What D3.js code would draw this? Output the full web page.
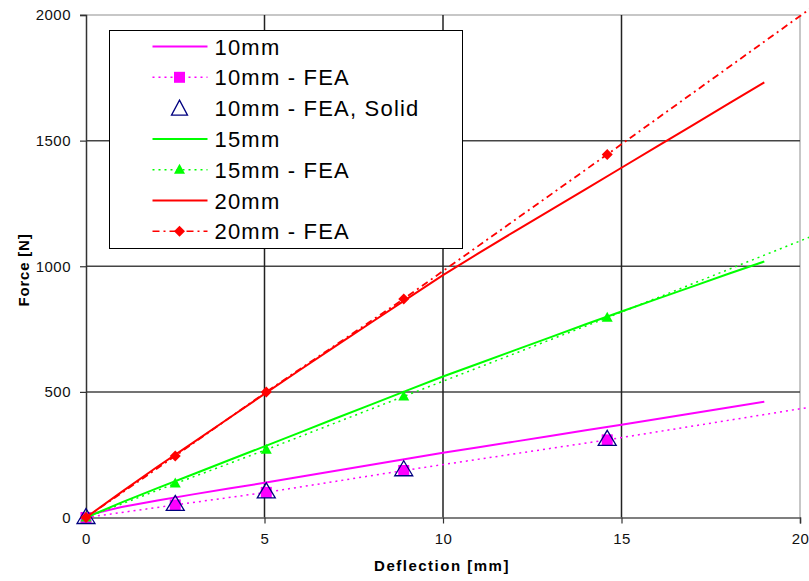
<!DOCTYPE html>
<html>
<head>
<meta charset="utf-8">
<script src="https://cdn.jsdelivr.net/npm/d3@7"></script>
<style>
	body { margin: 0; background: #fff; }
	svg { display: block; font-family: "Liberation Sans", Arial, sans-serif; }
</style>
</head>
<body>
<div id="chart"></div>
<script>
// measured curves, one reading per mm
const measX = [0, 1, 2, 3, 4, 5, 6, 7, 8, 9, 10, 11, 12, 13, 14, 15, 16, 17, 18, 19];
const meas10 = [8, 42, 68, 92, 115, 138, 162, 186, 210, 234, 258, 280, 302, 324, 347, 369, 392, 415, 438, 461];
const meas15 = [0, 60, 117, 172, 228, 283, 339, 395, 450, 506, 561, 613, 665, 717, 769, 820, 870, 920, 970, 1019];
const meas20 = [0, 102, 202, 298, 395, 492, 588, 683, 777, 871, 965, 1052, 1138, 1222, 1307, 1392, 1477, 1562, 1647, 1732];

// FEA points
const feaX = [0, 2.5, 5.05, 8.9, 14.6];
const fea10 = [0, 50, 100, 187, 309];
const fea10Solid = [0, 52, 102, 190, 311];
const fea15 = [0, 135, 270, 482, 795];
const fea20 = [0, 245, 500, 870, 1445];

// FEA lines run on past the plot edge
const feaEndX = 20.5;
const fea10End = 444;
const fea15End = 1129;
const fea20End = 2047;

const xTicks = [0, 5, 10, 15, 20];
const yTicks = [0, 500, 1000, 1500, 2000];

const legendLabels = ['10mm', '10mm - FEA', '10mm - FEA, Solid', '15mm', '15mm - FEA', '20mm', '20mm - FEA'];

const magenta = '#ff00ff', green = '#00ff00', red = '#ff0000', navy = '#000080';

const width = 809, height = 581;
const svg = d3.select('#chart').append('svg')
	.attr('width', width)
	.attr('height', height);

const x = d3.scaleLinear().domain([0, 20]).range([86, 800]);
const y = d3.scaleLinear().domain([0, 2000]).range([517.5, 15]);

// frame + grid
svg.append('line').attr('x1', 80).attr('x2', 800).attr('y1', y(2000)).attr('y2', y(2000))
	.attr('stroke', '#b4b4b4').attr('stroke-width', 1.5);
svg.append('line').attr('x1', x(20)).attr('x2', x(20)).attr('y1', y(2000)).attr('y2', y(0))
	.attr('stroke', '#b4b4b4').attr('stroke-width', 1.5);

svg.selectAll('.hgrid')
	.data([500, 1000, 1500])
	.enter().append('line')
	.attr('x1', x(0)).attr('x2', x(20))
	.attr('y1', d => y(d)).attr('y2', d => y(d))
	.attr('stroke', '#444').attr('stroke-width', 1.5);

svg.selectAll('.vgrid')
	.data([5, 10, 15])
	.enter().append('line')
	.attr('x1', d => x(d)).attr('x2', d => x(d))
	.attr('y1', y(2000)).attr('y2', y(0))
	.attr('stroke', '#222').attr('stroke-width', 1.5);

// axes
const yAxis = svg.append('g')
	.attr('transform', `translate(${x(0)},0)`)
	.call(d3.axisLeft(y).tickValues(yTicks).tickFormat(d3.format('d')).tickSize(6).tickPadding(9));
const xAxis = svg.append('g')
	.attr('transform', `translate(0,${y(0)})`)
	.call(d3.axisBottom(x).tickValues(xTicks).tickFormat(d3.format('d')).tickSize(6).tickPadding(10));

yAxis.select('.domain').attr('stroke', '#333').attr('stroke-width', 1.5);
xAxis.select('.domain').attr('stroke', '#555').attr('stroke-width', 1.5);
[yAxis, xAxis].forEach(a => {
	a.selectAll('.tick line').attr('stroke', '#333').attr('stroke-width', 1.2);
	a.selectAll('.tick text')
		.attr('fill', '#111')
		.style('font-size', '15px')
		.style('letter-spacing', '0.5px')
		.style('font-family', '"Liberation Sans", Arial, sans-serif');
});

svg.append('text')
	.attr('x', 442).attr('y', 571)
	.attr('text-anchor', 'middle')
	.style('font-size', '15px').style('font-weight', 'bold').style('letter-spacing', '1.5px')
	.text('Deflection [mm]');

svg.append('text')
	.attr('transform', 'translate(29,270) rotate(-90)')
	.attr('text-anchor', 'middle')
	.style('font-size', '15px').style('font-weight', 'bold').style('letter-spacing', '0.8px')
	.text('Force [N]');

// series
const line = d3.line().x(d => x(d[0])).y(d => y(d[1]));

function drawLine(pts, color, dash, w) {
	svg.append('path')
		.datum(pts)
		.attr('d', line)
		.attr('fill', 'none')
		.attr('stroke', color)
		.attr('stroke-width', w)
		.attr('stroke-dasharray', dash);
}

function drawMarkers(vals, shape) {
	const g = svg.append('g');
	feaX.forEach((xv, i) => {
		g.append('path')
			.attr('transform', `translate(${x(xv)},${y(vals[i])})`)
			.attr('d', shape.d)
			.attr('fill', shape.fill)
			.attr('stroke', shape.stroke || 'none')
			.attr('stroke-width', shape.sw || 0);
	});
}

const squareShape = { d: 'M-5.5,-5.5H5.5V5.5H-5.5Z', fill: magenta };
const hollowTri = { d: 'M0,-9L9,6H-9Z', fill: 'none', stroke: navy, sw: 1.3 };
const greenTri = { d: 'M0,-6L5.5,4H-5.5Z', fill: green };
const redDiamond = { d: 'M0,-5.5L5.5,0L0,5.5L-5.5,0Z', fill: red };

// 10mm
drawLine(d3.zip(measX, meas10), magenta, null, 2);
drawLine(d3.zip(feaX, fea10).concat([[feaEndX, fea10End]]), magenta, '2,4', 1.5);
drawMarkers(fea10, squareShape);
drawMarkers(fea10Solid, hollowTri);
// 15mm
drawLine(d3.zip(measX, meas15), green, null, 2);
drawLine(d3.zip(feaX, fea15).concat([[feaEndX, fea15End]]), green, '2,4', 1.5);
drawMarkers(fea15, greenTri);
// 20mm
drawLine(d3.zip(measX, meas20), red, null, 2);
drawLine(d3.zip(feaX, fea20).concat([[feaEndX, fea20End]]), red, '7,4,2,4', 1.8);
drawMarkers(fea20, redDiamond);

// legend
const legend = svg.append('g').attr('transform', 'translate(109.5,30.5)');
legend.append('rect')
	.attr('width', 353).attr('height', 218)
	.attr('fill', '#fff').attr('stroke', '#000').attr('stroke-width', 1);

const legendStyle = [
	{ color: magenta, dash: null, mark: null },
	{ color: magenta, dash: '2,4', mark: squareShape },
	{ color: null, dash: null, mark: { d: 'M0,-8L8,7H-8Z', fill: 'none', stroke: navy, sw: 1.3 } },
	{ color: green, dash: null, mark: null },
	{ color: green, dash: '2,4', mark: greenTri },
	{ color: red, dash: null, mark: null },
	{ color: red, dash: '7,4,2,4', mark: redDiamond }
];

legendLabels.forEach((lab, i) => {
	const cy = 16 + i * 30.8;
	const st = legendStyle[i];
	if (st.color) {
		legend.append('line')
			.attr('x1', 43).attr('x2', 98)
			.attr('y1', cy).attr('y2', cy)
			.attr('stroke', st.color)
			.attr('stroke-width', st.dash ? 1.5 : 2)
			.attr('stroke-dasharray', st.dash);
	}
	if (st.mark) {
		legend.append('path')
			.attr('transform', `translate(70,${cy})`)
			.attr('d', st.mark.d)
			.attr('fill', st.mark.fill)
			.attr('stroke', st.mark.stroke || 'none')
			.attr('stroke-width', st.mark.sw || 0);
	}
	legend.append('text')
		.attr('x', 105).attr('y', cy + 8)
		.style('font-size', '22px')
		.style('letter-spacing', '1.2px')
		.attr('fill', '#000')
		.text(lab);
});
</script>
</body>
</html>
